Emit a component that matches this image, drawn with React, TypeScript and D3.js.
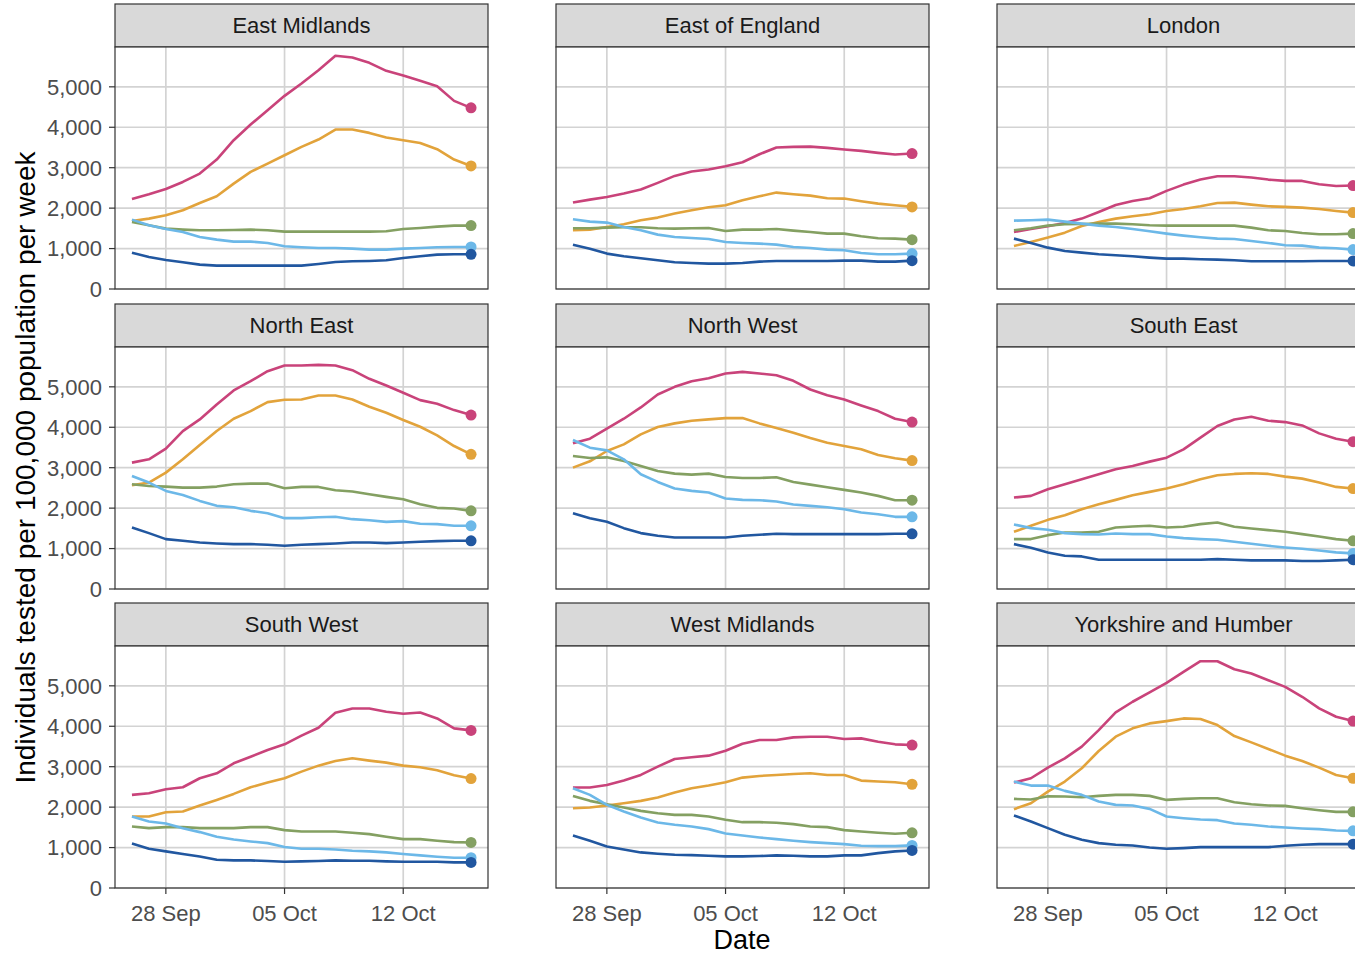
import React from 'react';
import * as d3 from 'd3';

// 21 daily points, 26 Sep .. 16 Oct 2020
const dates = d3.timeDay.range(new Date(2020, 8, 26), new Date(2020, 9, 17));
const xTicks = [new Date(2020, 8, 28), new Date(2020, 9, 5), new Date(2020, 9, 12)];
const yTicks = [0, 1000, 2000, 3000, 4000, 5000];

const seriesColors = ['#C9437A', '#E2A33B', '#84A062', '#6CB8E8', '#2157A0'];

const regions = [
  'East Midlands', 'East of England', 'London',
  'North East', 'North West', 'South East',
  'South West', 'West Midlands', 'Yorkshire and Humber',
];

// each region: [pink, orange, green, light blue, dark blue]
const eastMidlands = [
  [2228, 2343, 2475, 2648, 2855, 3201, 3680, 4067, 4422, 4777, 5082, 5412, 5767, 5726, 5594, 5396, 5280, 5148, 5016, 4653, 4480],
  [1683, 1741, 1823, 1947, 2128, 2293, 2607, 2896, 3102, 3308, 3514, 3696, 3943, 3943, 3861, 3745, 3680, 3613, 3457, 3201, 3044],
  [1658, 1575, 1493, 1468, 1452, 1452, 1460, 1468, 1452, 1419, 1419, 1419, 1419, 1419, 1419, 1427, 1485, 1510, 1543, 1568, 1568],
  [1716, 1575, 1485, 1411, 1287, 1221, 1172, 1172, 1139, 1056, 1031, 1015, 1015, 998, 974, 974, 998, 1015, 1031, 1040, 1040],
  [899, 792, 718, 660, 602, 578, 578, 578, 578, 578, 578, 619, 668, 685, 693, 710, 767, 809, 850, 858, 858],
];
const eastOfEngland = [
  [2137, 2211, 2277, 2360, 2459, 2624, 2797, 2904, 2954, 3036, 3135, 3333, 3498, 3514, 3522, 3490, 3449, 3416, 3366, 3325, 3350],
  [1452, 1468, 1535, 1600, 1700, 1766, 1865, 1947, 2021, 2071, 2195, 2293, 2384, 2343, 2310, 2244, 2236, 2170, 2112, 2071, 2030],
  [1502, 1502, 1518, 1526, 1526, 1502, 1493, 1502, 1510, 1436, 1468, 1468, 1485, 1444, 1411, 1370, 1370, 1304, 1254, 1246, 1221],
  [1724, 1667, 1642, 1535, 1452, 1345, 1287, 1262, 1238, 1163, 1139, 1122, 1097, 1040, 1015, 974, 957, 891, 858, 858, 875],
  [1097, 998, 875, 809, 759, 710, 660, 644, 627, 627, 644, 677, 693, 693, 693, 693, 701, 701, 677, 677, 701],
];
const london = [
  [1411, 1485, 1551, 1634, 1741, 1906, 2079, 2178, 2244, 2426, 2582, 2706, 2789, 2789, 2756, 2706, 2673, 2673, 2591, 2549, 2558],
  [1064, 1163, 1271, 1394, 1559, 1658, 1741, 1799, 1848, 1931, 1980, 2046, 2128, 2137, 2087, 2046, 2030, 2013, 1980, 1931, 1889],
  [1452, 1502, 1568, 1600, 1609, 1617, 1617, 1600, 1576, 1568, 1568, 1568, 1568, 1568, 1518, 1452, 1436, 1386, 1353, 1353, 1370],
  [1691, 1700, 1716, 1667, 1617, 1568, 1535, 1485, 1427, 1370, 1320, 1279, 1246, 1238, 1188, 1139, 1081, 1073, 1023, 1007, 974],
  [1246, 1139, 1023, 941, 899, 858, 833, 809, 776, 751, 751, 734, 726, 710, 685, 685, 685, 685, 693, 693, 693],
];
const northEast = [
  [3125, 3207, 3470, 3906, 4194, 4564, 4910, 5140, 5387, 5527, 5527, 5543, 5527, 5411, 5198, 5033, 4852, 4671, 4581, 4424, 4301],
  [2566, 2632, 2878, 3207, 3561, 3906, 4211, 4400, 4622, 4680, 4688, 4786, 4786, 4688, 4507, 4359, 4178, 4013, 3799, 3536, 3331],
  [2591, 2549, 2533, 2508, 2508, 2533, 2591, 2607, 2607, 2492, 2525, 2525, 2443, 2410, 2344, 2278, 2220, 2097, 2007, 1990, 1933],
  [2796, 2632, 2426, 2327, 2179, 2056, 2023, 1933, 1875, 1752, 1752, 1776, 1785, 1727, 1702, 1661, 1678, 1612, 1604, 1563, 1563],
  [1521, 1382, 1234, 1192, 1151, 1127, 1110, 1110, 1094, 1069, 1094, 1110, 1127, 1151, 1151, 1135, 1151, 1168, 1184, 1192, 1192],
];
const northWest = [
  [3602, 3717, 3964, 4211, 4490, 4811, 5000, 5140, 5214, 5329, 5370, 5329, 5288, 5148, 4934, 4794, 4688, 4540, 4400, 4211, 4128],
  [3002, 3158, 3413, 3577, 3824, 4005, 4096, 4161, 4194, 4227, 4227, 4096, 3980, 3865, 3734, 3619, 3536, 3454, 3314, 3232, 3175],
  [3290, 3240, 3256, 3166, 3043, 2920, 2854, 2829, 2854, 2771, 2747, 2747, 2763, 2648, 2582, 2517, 2451, 2385, 2303, 2196, 2196],
  [3684, 3495, 3429, 3207, 2837, 2648, 2484, 2426, 2385, 2237, 2204, 2196, 2163, 2089, 2056, 2023, 1974, 1892, 1850, 1785, 1785],
  [1875, 1752, 1661, 1505, 1382, 1316, 1275, 1275, 1275, 1275, 1316, 1340, 1365, 1357, 1357, 1357, 1357, 1357, 1357, 1365, 1365],
];
const southEast = [
  [2262, 2303, 2467, 2591, 2714, 2837, 2961, 3043, 3150, 3248, 3454, 3742, 4030, 4194, 4260, 4161, 4128, 4046, 3849, 3717, 3643],
  [1414, 1562, 1710, 1826, 1974, 2097, 2204, 2319, 2402, 2484, 2591, 2714, 2813, 2846, 2862, 2846, 2780, 2730, 2632, 2525, 2484],
  [1234, 1234, 1332, 1398, 1398, 1414, 1521, 1546, 1563, 1521, 1538, 1604, 1645, 1538, 1497, 1456, 1414, 1357, 1299, 1234, 1192],
  [1595, 1505, 1464, 1382, 1357, 1349, 1374, 1357, 1357, 1299, 1258, 1234, 1217, 1168, 1118, 1069, 1028, 995, 954, 905, 880],
  [1110, 1020, 905, 822, 806, 724, 724, 724, 724, 724, 724, 724, 740, 724, 707, 707, 707, 691, 691, 707, 724],
];
const southWest = [
  [2303, 2344, 2443, 2492, 2714, 2837, 3084, 3248, 3413, 3553, 3767, 3964, 4334, 4441, 4441, 4359, 4309, 4342, 4194, 3948, 3898],
  [1768, 1768, 1875, 1892, 2040, 2179, 2327, 2492, 2607, 2714, 2878, 3026, 3142, 3207, 3150, 3100, 3026, 2985, 2911, 2788, 2706],
  [1521, 1480, 1505, 1505, 1480, 1480, 1480, 1505, 1505, 1431, 1398, 1398, 1398, 1365, 1332, 1266, 1209, 1209, 1168, 1135, 1127],
  [1768, 1645, 1595, 1480, 1382, 1266, 1201, 1151, 1110, 1012, 970, 970, 954, 921, 905, 880, 839, 806, 773, 748, 748],
  [1102, 970, 905, 839, 781, 699, 683, 683, 666, 650, 658, 666, 683, 674, 674, 658, 650, 650, 650, 633, 633],
];
const westMidlands = [
  [2484, 2484, 2549, 2656, 2796, 3002, 3191, 3232, 3273, 3396, 3569, 3660, 3660, 3726, 3742, 3742, 3684, 3701, 3619, 3553, 3536],
  [1974, 1990, 2040, 2097, 2155, 2237, 2360, 2467, 2533, 2615, 2730, 2771, 2796, 2821, 2837, 2796, 2796, 2656, 2632, 2615, 2566],
  [2278, 2155, 2072, 1990, 1908, 1850, 1809, 1809, 1768, 1686, 1628, 1628, 1612, 1579, 1521, 1505, 1431, 1398, 1365, 1340, 1365],
  [2467, 2303, 2056, 1892, 1743, 1620, 1563, 1521, 1456, 1349, 1299, 1250, 1209, 1168, 1135, 1110, 1085, 1044, 1036, 1036, 1053],
  [1299, 1168, 1028, 954, 880, 847, 822, 814, 798, 781, 781, 790, 806, 798, 781, 781, 806, 806, 863, 905, 929],
];
const yorkshireHumber = [
  [2607, 2714, 2977, 3207, 3495, 3906, 4342, 4606, 4836, 5074, 5346, 5609, 5609, 5411, 5304, 5140, 4975, 4729, 4441, 4235, 4128],
  [1949, 2097, 2385, 2632, 2961, 3388, 3742, 3948, 4071, 4128, 4194, 4178, 4030, 3758, 3602, 3437, 3273, 3142, 2977, 2796, 2714],
  [2204, 2188, 2270, 2262, 2245, 2278, 2303, 2303, 2278, 2179, 2204, 2220, 2220, 2122, 2072, 2040, 2031, 1974, 1924, 1883, 1883],
  [2632, 2533, 2533, 2402, 2303, 2138, 2056, 2040, 1957, 1768, 1727, 1694, 1678, 1595, 1563, 1521, 1497, 1472, 1456, 1423, 1414],
  [1793, 1645, 1480, 1316, 1192, 1110, 1069, 1052, 1003, 970, 987, 1011, 1011, 1011, 1011, 1011, 1044, 1069, 1085, 1085, 1085],
];

const regionData = [
  eastMidlands, eastOfEngland, london,
  northEast, northWest, southEast,
  southWest, westMidlands, yorkshireHumber,
];

const W = 1355;
const H = 955;
const colX = [115, 556, 997];
const stripTop = [4, 304, 603];
const stripH = 43;
const panelW = 373;
const panelH = 242;

const x = d3.scaleTime()
  .domain([new Date(2020, 8, 25), new Date(2020, 9, 17)])
  .range([0, panelW]);

const y = d3.scaleLinear()
  .domain([0, 5985])
  .range([panelH, 0]);

const line = d3.line<number>()
  .x((d, i) => x(dates[i]))
  .y(d => y(d));

const fmt = d3.format(',');
const fmtDate = d3.timeFormat('%d %b');
const font = '"Liberation Sans", Arial, sans-serif';

const Panel = ({ idx }: { idx: number }) => {
  const col = idx % 3;
  const row = Math.floor(idx / 3);
  const left = colX[col];
  const top = stripTop[row];
  const pTop = top + stripH;
  const series = regionData[idx];
  const clipId = `clip-${idx}`;
  return (
    <g>
      {/* strip */}
      <rect x={left} y={top} width={panelW} height={stripH} fill="#D9D9D9" stroke="#333333" strokeWidth={1.2} />
      <text x={left + panelW / 2} y={top + stripH / 2} dy="0.36em" textAnchor="middle"
        fontSize={22} fill="#1A1A1A" fontFamily={font}>{regions[idx]}</text>
      <g transform={`translate(${left},${pTop})`}>
        <defs>
          <clipPath id={clipId}><rect x={0} y={0} width={panelW} height={panelH} /></clipPath>
        </defs>
        <rect x={0} y={0} width={panelW} height={panelH} fill="white" />
        {/* grid */}
        {yTicks.map(t => (
          <line key={`gy${t}`} x1={0} x2={panelW} y1={y(t)} y2={y(t)} stroke="#D3D3D3" strokeWidth={1.7} />
        ))}
        {xTicks.map(t => (
          <line key={`gx${+t}`} x1={x(t)} x2={x(t)} y1={0} y2={panelH} stroke="#D3D3D3" strokeWidth={1.7} />
        ))}
        <g clipPath={`url(#${clipId})`}>
          {series.map((vals, s) => (
            <path key={`l${s}`} d={line(vals) || ''} fill="none" stroke={seriesColors[s]}
              strokeWidth={2.6} strokeLinejoin="round" />
          ))}
          {series.map((vals, s) => (
            <circle key={`c${s}`} cx={x(dates[dates.length - 1])} cy={y(vals[vals.length - 1])}
              r={5.5} fill={seriesColors[s]} />
          ))}
        </g>
        <rect x={0} y={0} width={panelW} height={panelH} fill="none" stroke="#333333" strokeWidth={1.2} />
        {/* y axis on first column */}
        {col === 0 && yTicks.map(t => (
          <g key={`ya${t}`} transform={`translate(0,${y(t)})`}>
            <line x1={-6} x2={0} stroke="#333333" strokeWidth={1.2} />
            <text x={-13} dy="0.36em" textAnchor="end" fontSize={22} fill="#4D4D4D" fontFamily={font}>{fmt(t)}</text>
          </g>
        ))}
        {/* x axis on bottom row */}
        {row === 2 && xTicks.map(t => (
          <g key={`xa${+t}`} transform={`translate(${x(t)},${panelH})`}>
            <line y1={0} y2={6} stroke="#333333" strokeWidth={1.2} />
            <text y={25} dy="0.36em" textAnchor="middle" fontSize={22} fill="#4D4D4D" fontFamily={font}>{fmtDate(t)}</text>
          </g>
        ))}
      </g>
    </g>
  );
};

export default function App() {
  return (
    <svg width={W} height={H} style={{ position: 'absolute', left: 0, top: 0, background: 'white' }}>
      <rect width={W} height={H} fill="white" />
      {regions.map((r, i) => <Panel key={r} idx={i} />)}
      <text transform={`translate(35,${(47 + 888) / 2}) rotate(-90)`} textAnchor="middle"
        fontSize={28} fill="black" fontFamily={font}>Individuals tested per 100,000 population per week</text>
      <text x={742} y={949} textAnchor="middle" fontSize={27} fill="black" fontFamily={font}>Date</text>
    </svg>
  );
}
